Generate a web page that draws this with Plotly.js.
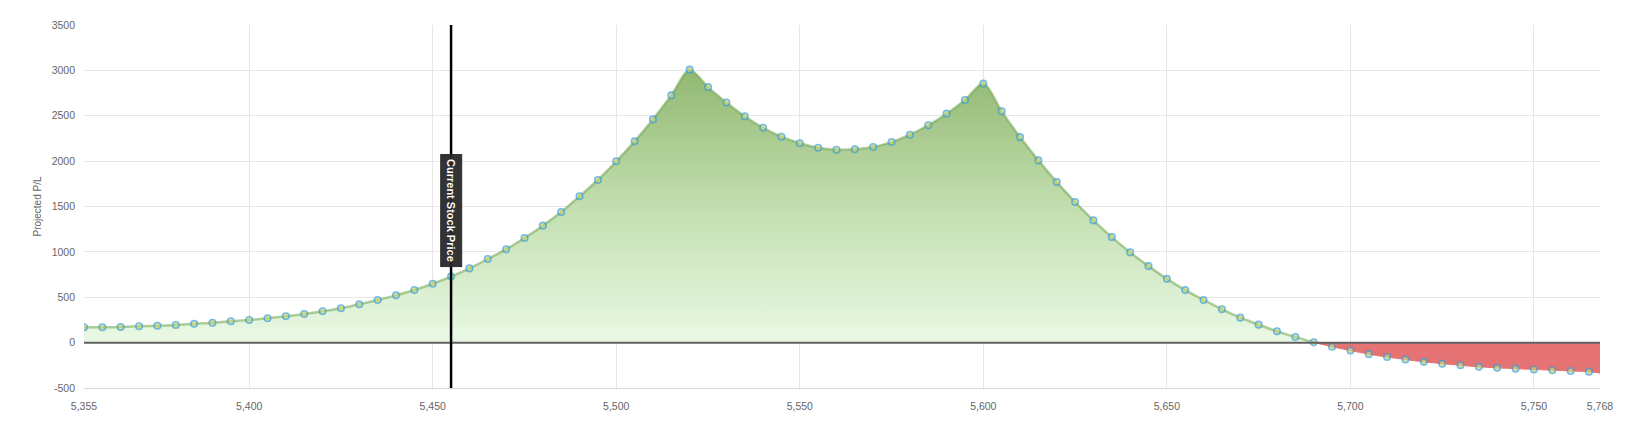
<!DOCTYPE html>
<html>
<head>
<meta charset="utf-8">
<script src="https://cdn.plot.ly/plotly-3.0.1.min.js"></script>
<style>
  html, body { margin: 0; padding: 0; background: #fff; }
  #chart { width: 1634px; height: 434px; }
</style>
</head>
<body>
<div id="chart"></div>
<script>
// Underlying price points
const prices = [
  5355, 5360, 5365, 5370, 5375, 5380, 5385, 5390, 5395, 5400,
  5405, 5410, 5415, 5420, 5425, 5430, 5435, 5440, 5445, 5450,
  5455, 5460, 5465, 5470, 5475, 5480, 5485, 5490, 5495, 5500,
  5505, 5510, 5515, 5520, 5525, 5530, 5535, 5540, 5545, 5550,
  5555, 5560, 5565, 5570, 5575, 5580, 5585, 5590, 5595, 5600,
  5605, 5610, 5615, 5620, 5625, 5630, 5635, 5640, 5645, 5650,
  5655, 5660, 5665, 5670, 5675, 5680, 5685, 5690, 5695, 5700,
  5705, 5710, 5715, 5720, 5725, 5730, 5735, 5740, 5745, 5750,
  5755, 5760, 5765, 5768
];
// Projected P/L at each price
const projectedPL = [
  169, 169, 172, 180, 186, 194, 208, 219, 235, 249,
  268, 290, 315, 345, 378, 422, 469, 521, 580, 649,
  728, 818, 921, 1028, 1153, 1289, 1439, 1613, 1792, 1998,
  2218, 2460, 2725, 3008, 2815, 2646, 2493, 2368, 2269, 2197,
  2148, 2126, 2130, 2155, 2210, 2291, 2395, 2523, 2674, 2854,
  2548, 2265, 2008, 1769, 1549, 1347, 1163, 994, 843, 703,
  579, 470, 367, 275, 198, 124, 62, 3, -45, -87,
  -127, -159, -186, -212, -232, -250, -267, -278, -287, -296,
  -304, -312, -320, -335
];
const currentStockPrice = 5455;
const currentLabel = "Current Stock Price";
const xTickVals = [5355, 5400, 5450, 5500, 5550, 5600, 5650, 5700, 5750, 5768];
const xTickText = ["5,355", "5,400", "5,450", "5,500", "5,550", "5,600", "5,650", "5,700", "5,750", "5,768"];
const yTickVals = [-500, 0, 500, 1000, 1500, 2000, 2500, 3000, 3500];
const yTickText = ["-500", "0", "500", "1000", "1500", "2000", "2500", "3000", "3500"];
const yTitle = "Projected P/L";

// split into profit / loss parts at the zero crossing
const posX = [], posY = [], negX = [], negY = [];
for (let i = 0; i < prices.length; i++) {
  const y = projectedPL[i];
  if (y >= 0) { posX.push(prices[i]); posY.push(y); }
  else { negX.push(prices[i]); negY.push(y); }
  if (i + 1 < prices.length) {
    const y2 = projectedPL[i + 1];
    if ((y >= 0) !== (y2 >= 0)) {
      const xc = prices[i] + (prices[i + 1] - prices[i]) * (y / (y - y2));
      posX.push(xc); posY.push(0);
      negX.push(xc); negY.push(0);
    }
  }
}
const maxPL = Math.max(...projectedPL);
const lastPrice = prices[prices.length - 1];

const traces = [
  {
    x: posX, y: posY, type: 'scatter', mode: 'lines',
    line: { shape: 'spline', smoothing: 0.8, color: 'rgba(112,166,82,0.55)', width: 2.5 },
    fill: 'tozeroy',
    fillgradient: { type: 'vertical', start: 0, stop: maxPL,
      colorscale: [[0, 'rgb(234,249,229)'], [0.5, 'rgb(194,222,175)'], [1, 'rgb(146,184,114)']] },
    hoverinfo: 'skip', showlegend: false
  },
  {
    x: negX, y: negY, type: 'scatter', mode: 'lines',
    line: { shape: 'spline', smoothing: 0.8, color: 'rgb(228,115,115)', width: 1 },
    fill: 'tozeroy', fillcolor: 'rgb(229,115,115)',
    hoverinfo: 'skip', showlegend: false
  },
  {
    x: prices, y: projectedPL, type: 'scatter', mode: 'markers',
    marker: {
      size: prices.map(p => p === lastPrice ? 0 : 6.5),
      color: 'rgb(204,214,120)',
      line: { color: 'rgb(62,160,214)', width: 1.6 }
    },
    showlegend: false
  }
];

const layout = {
  width: 1634, height: 434,
  margin: { l: 84, r: 34, t: 25, b: 46 },
  paper_bgcolor: '#fff', plot_bgcolor: '#fff',
  font: { family: 'Liberation Sans, Arial, sans-serif', size: 10.5, color: '#666' },
  showlegend: false,
  xaxis: {
    range: [5355, 5768],
    tickmode: 'array', tickvals: xTickVals, ticktext: xTickText,
    showgrid: true, gridcolor: '#e6e6e6', gridwidth: 1,
    zeroline: false,
    showline: true, linecolor: '#d6d6d6', linewidth: 1,
    ticks: '', ticklabelstandoff: 8,
    tickfont: { size: 10.5, color: '#666' }
  },
  yaxis: {
    range: [-500, 3500],
    tickmode: 'array', tickvals: yTickVals, ticktext: yTickText,
    showgrid: true, gridcolor: '#e6e6e6', gridwidth: 1,
    zeroline: false, showline: false,
    ticks: '', ticklabelstandoff: 8,
    tickfont: { size: 10.5, color: '#666' },
    title: { text: yTitle, font: { size: 10, color: '#666' }, standoff: 8 }
  },
  shapes: [
    { type: 'line', xref: 'paper', x0: 0, x1: 1, yref: 'y', y0: 0, y1: 0,
      line: { color: '#606060', width: 2 }, layer: 'above' },
    { type: 'line', xref: 'x', x0: currentStockPrice, x1: currentStockPrice, yref: 'paper', y0: 0, y1: 1,
      line: { color: '#000', width: 2.5 }, layer: 'above' }
  ],
  annotations: [
    { x: currentStockPrice, y: 1460, xref: 'x', yref: 'y',
      text: '<b>' + currentLabel + '</b>', textangle: 90, showarrow: false,
      font: { color: '#fff', size: 11, family: 'Liberation Sans, Arial, sans-serif' },
      bgcolor: 'rgba(40,40,40,0.95)', bordercolor: 'rgba(40,40,40,0.95)', borderwidth: 1, borderpad: 4 }
  ]
};

Plotly.newPlot('chart', traces, layout, { displayModeBar: false, staticPlot: true });
</script>
</body>
</html>
